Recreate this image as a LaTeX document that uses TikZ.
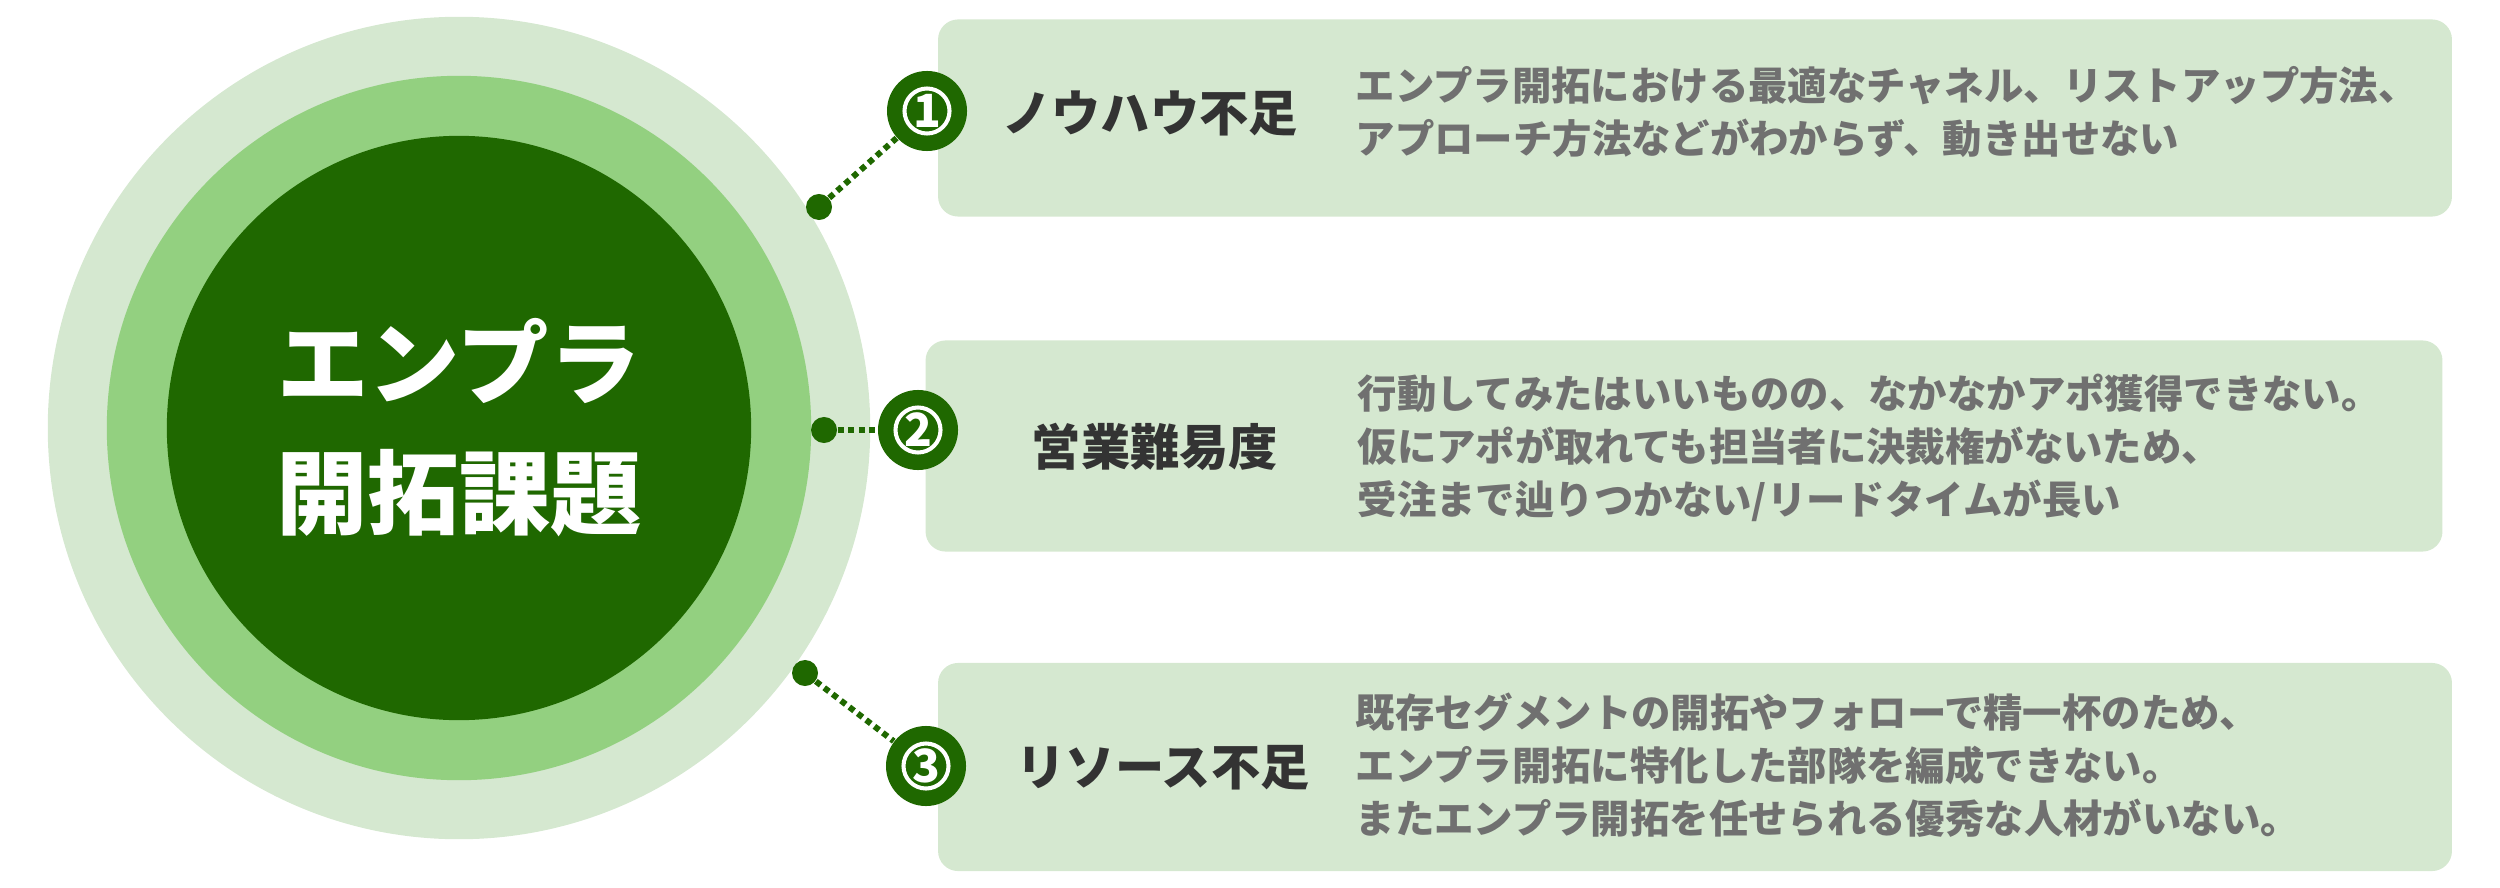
\documentclass[tikz,border=0pt]{standalone}
\usepackage{fontspec}
\setmainfont{Noto Sans CJK JP}
\definecolor{paleg}{HTML}{D5E8D0}
\definecolor{midg}{HTML}{93D080}
\definecolor{darkg}{HTML}{1F6800}
\definecolor{headc}{HTML}{333333}
\definecolor{bodyc}{HTML}{707070}
\tikzset{
  ring/.style={circle, inner sep=0pt},
  issue/.style={fill=paleg, rounded corners=0.2cm, inner sep=0pt},
  badge/.style={circle, fill=darkg, text=white, minimum size=0.8cm, inner sep=0pt,
    font=\bfseries\fontsize{13}{13}\selectfont,
    path picture={\draw[white, line width=1.15pt] (path picture bounding box.center) circle[radius=0.225cm];}},
  pin/.style={circle, fill=darkg, minimum size=0.26cm, inner sep=0pt},
  link/.style={darkg, line width=1.7pt, dash pattern=on 1.7pt off 1.3pt},
  heading/.style={text=headc, inner sep=0pt, font=\bfseries\fontsize{14}{14}\selectfont},
  detail/.style={anchor=west, align=left, text=bodyc, inner sep=0pt,
    font=\bfseries\fontsize{11.2}{15}\selectfont},
}

\begin{document}
\begin{tikzpicture}[x=0.01cm, y=-0.01cm]
  \useasboundingbox (0,0) rectangle (2500,888);
  % rings
  \node[ring, fill=paleg, minimum size=8.22cm] (outer) at (459,428) {};
  \node[ring, fill=midg, minimum size=7.04cm] (middle) at (459,428) {};
  \node[ring, fill=darkg, minimum size=5.84cm, text=white, align=center,
    font=\bfseries\fontsize{26}{37}\selectfont] (core) at (459,428) {エンプラ\\開拓課題};
  % boxes
  \node[issue, minimum width=15.13cm, minimum height=1.97cm] (box1) at (1695,118) {};
  \node[issue, minimum width=15.16cm, minimum height=2.11cm] (box2) at (1684,446) {};
  \node[issue, minimum width=15.13cm, minimum height=2.08cm] (box3) at (1695,767) {};
  % pins and badges
  \node[pin] (pin1) at (819,207) {};
  \node[pin] (pin2) at (824,430) {};
  \node[pin] (pin3) at (805,673) {};
  \node[badge] (badge1) at (927,111) {1};
  \node[badge] (badge2) at (918,430) {2};
  \node[badge] (badge3) at (926,766) {3};
  \draw[link] (pin1) -- (badge1);
  \draw[link] (pin2) -- (badge2);
  \draw[link] (pin3) -- (badge3);
  % texts
  \node[heading] (head1) at (1150,113) {ノウハウ不足};
  \node[heading] (head2) at (1155,447) {営業難易度};
  \node[heading] (head3) at (1163,768) {リソース不足};
  \node[detail] (text1) at (1355,112) {エンプラ開拓における最適なチャネル、リストアップ方法、\\アプローチ方法などがわからず、動き出せない};
  \node[detail] (text2) at (1357,448) {行動してみたはいいものの、なかなかアポ獲得できない。\\仮にアポが取れても担当者に決裁権がないため、\\受注まで辿りつかない/リードタイムが長い};
  \node[detail] (text3) at (1355,765) {既存セグメントの開拓やフォローで精一杯のため、\\エンプラ開拓に特化した部隊を編成できない。\\またエンプラ開拓を任せられる優秀な人材がいない。};
\end{tikzpicture}
\end{document}
